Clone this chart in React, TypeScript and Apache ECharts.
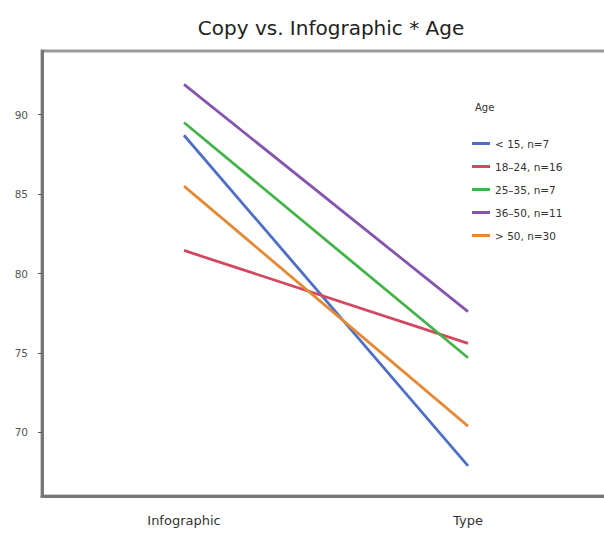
import React, { useEffect, useRef } from "react";
import * as echarts from "echarts";

const categories = ["Infographic", "Type"];
const seriesNames = ["< 15, n=7", "18–24, n=16", "25–35, n=7", "36–50, n=11", "> 50, n=30"];
const lt15 = [88.7, 67.9];
const a18to24 = [81.45, 75.6];
const a25to35 = [89.5, 74.7];
const a36to50 = [91.9, 77.6];
const gt50 = [85.5, 70.4];
const seriesValues = [lt15, a18to24, a25to35, a36to50, gt50];
const colors = ["#4f6fc6", "#d2485e", "#44b34a", "#8554ae", "#e48a36"];
const yTicks = [70, 75, 80, 85, 90];

export default function App() {
  const ref = useRef<HTMLDivElement>(null);
  useEffect(() => {
    document.body.style.margin = "0";
    const chart = echarts.init(ref.current!, null, { renderer: "svg" });
    const font = "DejaVu Sans, Liberation Sans, sans-serif";
    chart.setOption({
      animation: false,
      textStyle: { fontFamily: font },
      title: [
        {
          text: "Copy vs. Infographic * Age",
          left: 326,
          top: 13,
          textAlign: "center",
          textStyle: { fontSize: 20, fontWeight: "normal", color: "#222", fontFamily: font },
        },
        {
          text: "Age",
          left: 470,
          top: 97,
          textStyle: { fontSize: 10, fontWeight: "normal", color: "#333", fontFamily: font },
        },
      ],
      legend: {
        orient: "vertical",
        left: 467,
        top: 133,
        icon: "rect",
        itemWidth: 18,
        itemHeight: 3,
        itemGap: 12,
        textStyle: { fontSize: 10.5, color: "#333", fontFamily: font },
        data: seriesNames,
      },
      grid: {
        left: 42,
        top: 51,
        width: 568,
        height: 445,
        show: true,
        borderColor: "#999",
        borderWidth: 3,
      },
      xAxis: {
        type: "category",
        data: categories,
        boundaryGap: true,
        axisLine: { lineStyle: { color: "#777", width: 3 } },
        axisTick: { show: false },
        axisLabel: { margin: 18, fontSize: 13, color: "#333" },
      },
      yAxis: {
        type: "value",
        min: 66,
        max: 94,
        splitLine: { show: false },
        axisLine: { show: true, lineStyle: { color: "#777", width: 3 } },
        axisTick: { show: true, length: 4, customValues: yTicks, lineStyle: { color: "#555" } },
        axisLabel: { customValues: yTicks, fontSize: 10.5, color: "#555", margin: 14 },
      },
      series: seriesValues.map((vals, i) => ({
        name: seriesNames[i],
        type: "line",
        data: vals,
        showSymbol: false,
        symbol: "none",
        lineStyle: { color: colors[i], width: 2.8 },
        itemStyle: { color: colors[i] },
      })),
    });
    return () => chart.dispose();
  }, []);
  return (
    <div style={{ width: 604, height: 536, overflow: "hidden" }}>
      <div ref={ref} style={{ width: 620, height: 536 }} />
    </div>
  );
}
